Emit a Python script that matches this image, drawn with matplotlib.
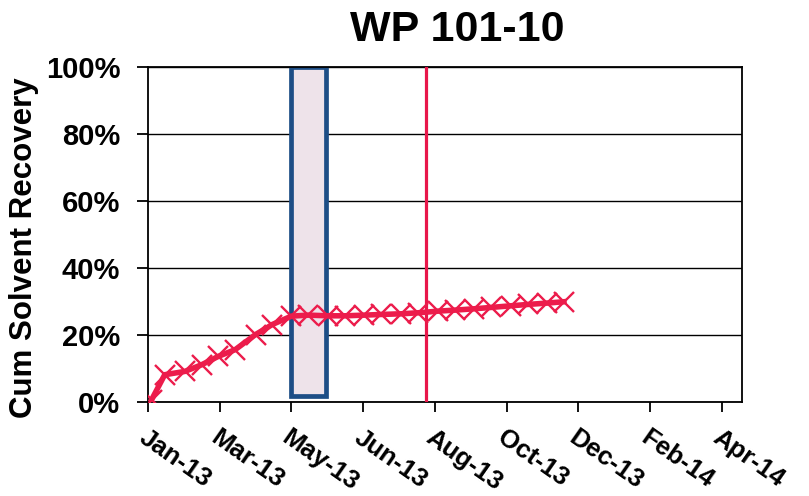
import datetime as dt
import matplotlib
matplotlib.use("Agg")
import matplotlib.pyplot as plt
import matplotlib.dates as mdates
from matplotlib.ticker import FuncFormatter

plt.rcParams['font.family'] = ['Liberation Sans', 'DejaVu Sans']

# ---- data ----
title = "WP 101-10"
y_label = "Cum Solvent Recovery"
dates = ["2013-01-04", "2013-01-15", "2013-02-01", "2013-02-15", "2013-03-01",
         "2013-03-15", "2013-04-01", "2013-04-15", "2013-05-01", "2013-05-15",
         "2013-06-01", "2013-06-15", "2013-07-01", "2013-07-15", "2013-08-01",
         "2013-08-15", "2013-09-01", "2013-09-15", "2013-10-01", "2013-10-15",
         "2013-11-01", "2013-11-15", "2013-12-01", "2013-12-15"]
recovery = [0.005, 0.080, 0.090, 0.110, 0.135, 0.155, 0.200, 0.230, 0.255, 0.258,
            0.256, 0.256, 0.258, 0.260, 0.262, 0.265, 0.270, 0.273, 0.277, 0.281,
            0.286, 0.290, 0.294, 0.298]
tick_dates = ["2013-01-01", "2013-03-02", "2013-05-01", "2013-06-30", "2013-08-29",
              "2013-10-28", "2013-12-27", "2014-02-25", "2014-04-26"]
box_start, box_end = "2013-05-01", "2013-05-30"
event_date = "2013-08-22"
x_min, x_max = "2013-01-01", "2014-05-13"

def d(s):
    return dt.datetime.strptime(s, "%Y-%m-%d")

fig = plt.figure(figsize=(8.09, 4.96), dpi=100)
ax = fig.add_axes([0.1829, 0.1905, 0.9172 - 0.1829, 0.8655 - 0.1905])

red = '#EC1C4B'

# shaded box
x0, x1 = mdates.date2num(d(box_start)), mdates.date2num(d(box_end))
ax.add_patch(plt.Rectangle((x0, 0.016), x1 - x0, 1.0 - 0.016, facecolor='#EEE3EA',
                           edgecolor='#1D4E86', linewidth=3.4, zorder=2))

ax.plot([d(s) for s in dates], recovery, color=red, linewidth=4, marker='x',
        markersize=14, markeredgewidth=1.7, zorder=4)

ax.axvline(d(event_date), color='#E8174A', linewidth=2.3, zorder=3)

ax.set_xlim(d(x_min), d(x_max))
ax.set_ylim(0, 1.0)
ax.set_yticks([0, 0.2, 0.4, 0.6, 0.8, 1.0])
ax.yaxis.set_major_formatter(FuncFormatter(lambda v, p: f"{v*100:.0f}%"))
ax.grid(axis='y', color='black', linewidth=1.0, zorder=1)
ax.set_axisbelow(True)

ax.set_xticks([d(s) for s in tick_dates])
ax.set_xticklabels([d(s).strftime("%b-%y") for s in tick_dates], rotation=-35,
                   ha='left', va='top', rotation_mode='anchor',
                   fontsize=18.5, fontweight='bold')
for lbl in ax.get_yticklabels():
    lbl.set_fontsize(21)
    lbl.set_fontweight('bold')

ax.tick_params(axis='x', direction='out', length=7, width=1.3, pad=10)
ax.tick_params(axis='y', direction='out', length=8, width=1.3, pad=12)
for sp in ax.spines.values():
    sp.set_color('black')
    sp.set_linewidth(1.3)

fig.text(0.565, 0.94, title, ha='center', va='center', fontsize=31, fontweight='bold')
fig.text(0.030, 0.50, y_label, ha='center', va='center', rotation=90,
         fontsize=22.5, fontweight='bold')

fig.savefig("out.png", dpi=100, facecolor='white')
